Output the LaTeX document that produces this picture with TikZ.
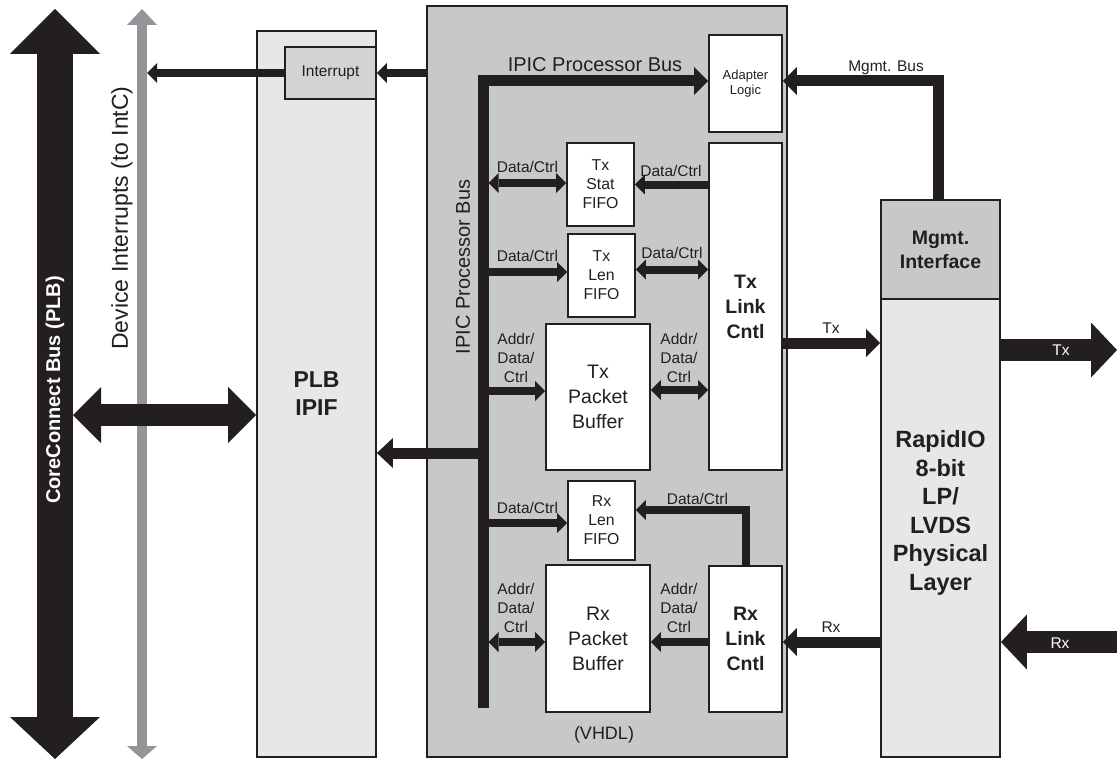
\documentclass[tikz,border=0pt]{standalone}
\usepackage{fontspec}
\setmainfont{Liberation Sans}
\usetikzlibrary{arrows.meta}
\definecolor{ink}{HTML}{231F20}
\definecolor{lightg}{HTML}{E6E7E8}
\definecolor{midg}{HTML}{C7C8CA}
\definecolor{intg}{HTML}{D1D3D4}
\definecolor{lineg}{HTML}{939598}
\newcommand{\fsz}[2]{\fontsize{#1}{#2}\selectfont}
\tikzset{
  stip/.tip={Triangle[length=10pt,width=20pt,line width=0pt]},
  mtip/.tip={Triangle[length=14pt,width=28pt,line width=0pt]},
  btip/.tip={Triangle[length=26pt,width=55pt,line width=0pt]},
  blk/.style={draw=ink,line width=1.8pt,inner sep=0pt,align=center,text=ink},
  lbl/.style={text=ink,inner sep=0pt,align=center,font=\fsz{15.5}{19}},
  sarr/.style={draw=ink,line width=8pt,line join=miter},
  marr/.style={draw=ink,line width=11pt,line join=miter},
  barr/.style={draw=ink,line width=22pt},
  fifo/.style={blk,fill=white,minimum width=67pt,font=\fsz{15.8}{19}},
  pbuf/.style={blk,fill=white,minimum width=104pt,font=\fsz{19.5}{25}},
  lnk/.style={blk,fill=white,minimum width=73pt,font=\fsz{19.5}{25}\bfseries},
}
\begin{document}
\begin{tikzpicture}[x=1pt,y=-1pt]
\useasboundingbox[fill=white] (0,0) rectangle (1117,760);

% large blocks
\node[blk,fill=midg,minimum width=360pt,minimum height=751pt] (main) at (607,381.5) {};
\node[blk,fill=lightg,minimum width=119pt,minimum height=726pt,font=\fsz{23}{28}\bfseries] (plb) at (316.5,394) {PLB\\IPIF};
\node[blk,fill=intg,minimum width=91pt,minimum height=52pt,font=\fsz{15.5}{19}] (intr) at (330.5,73) {Interrupt};
\node[blk,fill=lightg,minimum width=119pt,minimum height=458pt] (phy) at (940.5,528) {};
\node[blk,fill=midg,minimum width=119pt,minimum height=99pt,font=\fsz{19.5}{24}\bfseries] (mgmt) at (940.5,249.5) {Mgmt.\\Interface};
\node[text=ink,align=center,font=\fsz{23.5}{28.5}\bfseries] (phytext) at (940.5,513) {RapidIO\\8-bit\\LP/\\LVDS\\Physical\\Layer};

% inner blocks
\node[blk,fill=white,minimum width=73pt,minimum height=97pt,font=\fsz{13}{15}] (adapt) at (745.5,83.5) {Adapter\\Logic};
\node[lnk,minimum height=327pt] (txlink) at (745.5,306.5) {Tx\\Link\\Cntl};
\node[lnk,minimum height=146pt] (rxlink) at (745.5,639) {Rx\\Link\\Cntl};
\node[fifo,minimum height=83pt] (txstat) at (600.5,184.5) {Tx\\Stat\\FIFO};
\node[fifo,minimum height=83pt] (txlen) at (601.5,275.5) {Tx\\Len\\FIFO};
\node[fifo,minimum height=79pt] (rxlen) at (601.5,520.5) {Rx\\Len\\FIFO};
\node[pbuf,minimum height=146pt] (txpb) at (598,397) {Tx\\Packet\\Buffer};
\node[pbuf,minimum height=147pt] (rxpb) at (598,638.5) {Rx\\Packet\\Buffer};

% coordinates
\coordinate (ccT) at (55,9);
\coordinate (ccB) at (55,759);
\coordinate (ccR) at (73,415);
\coordinate (gT) at (142,9);
\coordinate (gB) at (142,759);
\coordinate (busTop) at (483,81);
\coordinate (busBot) at (483,708);
\coordinate (busR) at (488.5,81);
\coordinate (busL) at (477.5,81);
\coordinate (plbArr) at ([yshift=-59pt]plb.east);
\coordinate (txout) at (1117,350);
\coordinate (rxin) at (1117,642);

% left buses
\draw[draw=lineg,line width=10pt,{Triangle[length=16pt,width=30pt,line width=0pt]}-{Triangle[length=13pt,width=30pt,line width=0pt]}] (gT) -- (gB);
\draw[draw=ink,line width=36pt,{Triangle[length=45pt,width=90pt,line width=0pt]}-{Triangle[length=42pt,width=90pt,line width=0pt]}] (ccT) -- (ccB);
\draw[barr,{Triangle[length=28pt,width=56pt,line width=0pt]}-{Triangle[length=28pt,width=56pt,line width=0pt]}] (ccR) -- (plb.west |- ccR);

% interrupt
\draw[sarr,-stip] (main.west |- intr.east) -- (intr.east);
\draw[sarr,-stip] (intr.west) -- ([xshift=5pt]gT |- intr.west);

% IPIC processor bus
\draw[marr,-mtip] (busBot) -- (busTop) -- ([yshift=2.5pt]adapt.west);
\draw[marr,-{Triangle[length=16pt,width=30pt,line width=0pt]}] (busL |- plbArr) -- (plbArr);

% bus to FIFOs and buffers
\draw[sarr,stip-stip] ([yshift=1.5pt]busR |- txstat.west) -- ([yshift=1.5pt]txstat.west);
\draw[sarr,-stip] (txlink.west |- txstat.east) -- (txstat.east);
\draw[sarr,-stip] ([yshift=3.5pt]busR |- txlen.west) -- ([yshift=3.5pt]txlen.west);
\draw[sarr,stip-stip] ([yshift=6pt]txlen.east) -- ([yshift=6pt]txlen.east -| txlink.west);
\draw[sarr,-stip] ([yshift=6pt]busR |- txpb.west) -- ([yshift=6pt]txpb.west);
\draw[sarr,stip-stip] ([yshift=7pt]txpb.east) -- ([yshift=7pt]txpb.east -| txlink.west);
\draw[sarr,-stip] ([yshift=-2.5pt]busR |- rxlen.west) -- ([yshift=-2.5pt]rxlen.west);
\draw[sarr,-stip] (rxlink.north) -- ([yshift=10.5pt]rxlink.north |- rxlen.east) -- ([yshift=10.5pt]rxlen.east);
\draw[sarr,stip-stip] ([yshift=-3.5pt]busR |- rxpb.west) -- ([yshift=-3.5pt]rxpb.west);
\draw[sarr,-stip] ([yshift=-3.5pt]rxpb.east -| rxlink.west) -- ([yshift=-3.5pt]rxpb.east);

% right side
\draw[marr,-mtip] ([xshift=-2.5pt]mgmt.north) -- ([xshift=-2.5pt]mgmt.north |- busTop) -- ([yshift=2.5pt]adapt.east);
\draw[marr,-mtip] ([yshift=-36.5pt]txlink.east) -- ([yshift=-36.5pt]txlink.east -| phy.west);
\draw[marr,-mtip] ([yshift=-3pt]rxlink.east -| phy.west) -- ([yshift=-3pt]rxlink.east);
\draw[barr,-btip] (phy.east |- txout) -- (txout);
\draw[barr,-btip] (rxin) -- (phy.east |- rxin);

% labels
\node[text=ink,rotate=90,font=\fsz{23}{27}] (devint) at (122,218) {Device Interrupts (to IntC)};
\node[text=white,rotate=90,font=\fsz{20}{24}\bfseries] (ccl) at (55,390) {CoreConnect Bus (PLB)};
\node[text=ink,rotate=90,font=\fsz{20}{24}] (ipicv) at (463,267) {IPIC Processor Bus};
\node[text=ink,font=\fsz{20}{24}] (ipich) at (595,64.5) {IPIC Processor Bus};
\node[text=ink,font=\fsz{18}{22}] (vhdl) at (604,735) {(VHDL)};
\node[lbl] (mbus) at (886,68) {Mgmt. Bus};
\node[lbl] (l1) at (527.5,167) {Data/Ctrl};
\node[lbl] (l2) at (671,170.5) {Data/Ctrl};
\node[lbl] (l3) at (527.5,256) {Data/Ctrl};
\node[lbl] (l4) at (672,252.8) {Data/Ctrl};
\node[lbl] (l5) at (516,358) {Addr/\\Data/\\Ctrl};
\node[lbl] (l6) at (679,358) {Addr/\\Data/\\Ctrl};
\node[lbl] (l7) at (527.5,508) {Data/Ctrl};
\node[lbl] (l8) at (697.5,498.8) {Data/Ctrl};
\node[lbl] (l9) at (516,608) {Addr/\\Data/\\Ctrl};
\node[lbl] (l10) at (679,608) {Addr/\\Data/\\Ctrl};
\node[lbl] (ltx) at (831,328) {Tx};
\node[lbl] (lrx) at (831,627) {Rx};
\node[lbl,text=white] (btx) at (1061,350.5) {Tx};
\node[lbl,text=white] (brx) at (1060,643) {Rx};
\end{tikzpicture}
\end{document}
